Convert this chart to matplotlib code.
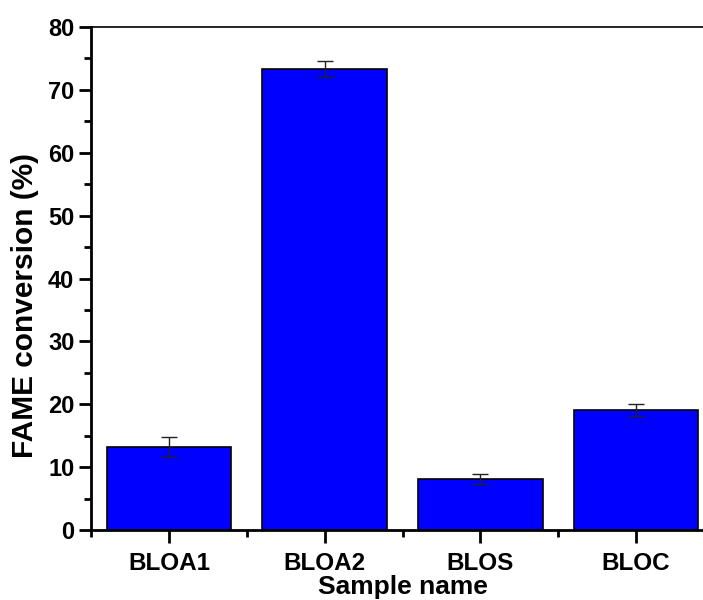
import numpy as np
import matplotlib.pyplot as plt
from matplotlib.ticker import MultipleLocator, FixedLocator

plt.rcParams['font.family'] = ['Liberation Sans', 'DejaVu Sans']
plt.rcParams['font.weight'] = 'bold'

samples = ["BLOA1", "BLOA2", "BLOS", "BLOC"]
conversion = [13.2, 73.3, 8.1, 19.1]
errors = [1.6, 1.3, 0.8, 0.9]

fig = plt.figure(figsize=(7.03, 6.0), dpi=100)
ax = fig.add_axes([91 / 703, 70 / 600, 623 / 703, 503 / 600])

x = np.arange(1, len(samples) + 1)
ax.bar(x, conversion, width=0.8, color="#0000ff", edgecolor="black", linewidth=1.2, zorder=2)
ax.errorbar(x, conversion, yerr=errors, fmt="none", ecolor="#222222", elinewidth=1,
            capsize=6, capthick=1, zorder=3)

ax.set_xlim(0.5, 4.5)
ax.set_ylim(0, 80)
ax.set_xticks(x)
ax.set_xticklabels(samples)
ax.xaxis.set_minor_locator(FixedLocator([0.5, 1.5, 2.5, 3.5, 4.5]))
ax.yaxis.set_major_locator(MultipleLocator(10))
ax.yaxis.set_minor_locator(MultipleLocator(5))

ax.tick_params(axis="both", which="major", direction="out", length=9, width=2, labelsize=17, pad=3)
ax.tick_params(axis="both", which="minor", direction="out", length=5, width=2)
ax.tick_params(axis="x", which="major", labelsize=17.5, pad=7)
ax.tick_params(top=False, right=False, which="both")

ax.spines["left"].set_linewidth(2)
ax.spines["bottom"].set_linewidth(2)
ax.spines["top"].set_linewidth(1.2)
ax.spines["right"].set_linewidth(1.2)

ax.set_xlabel("Sample name", fontsize=19, fontweight="bold", labelpad=0)
ax.set_ylabel("FAME conversion (%)", fontsize=21.5, fontweight="bold")
ax.yaxis.set_label_coords(-0.083, 0.447)

fig.savefig("out.png", dpi=100)
